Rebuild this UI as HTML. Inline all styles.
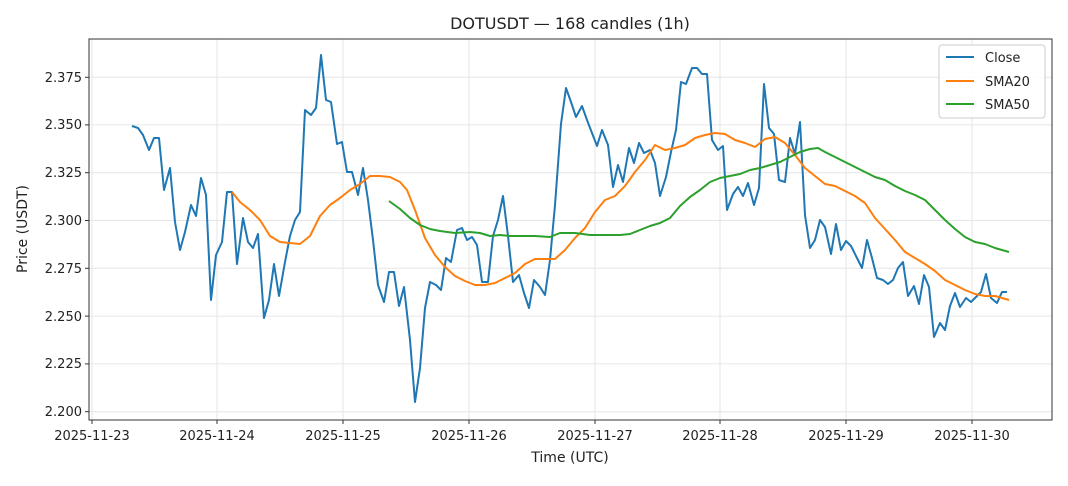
<!DOCTYPE html><html><head><style>body{margin:0;background:#fff}svg{font-family:"DejaVu Sans","Liberation Sans",sans-serif}</style></head><body>
<svg width="1068" height="481" xmlns="http://www.w3.org/2000/svg">
<rect width="1068" height="481" fill="#fff"/>
<g stroke="#e6e6e6" stroke-width="1">
<line x1="92" y1="39" x2="92" y2="420"/><line x1="217" y1="39" x2="217" y2="420"/><line x1="343" y1="39" x2="343" y2="420"/><line x1="469" y1="39" x2="469" y2="420"/><line x1="595" y1="39" x2="595" y2="420"/><line x1="720" y1="39" x2="720" y2="420"/><line x1="846" y1="39" x2="846" y2="420"/><line x1="972" y1="39" x2="972" y2="420"/>
<line x1="89" y1="411.7" x2="1052" y2="411.7"/><line x1="89" y1="363.9" x2="1052" y2="363.9"/><line x1="89" y1="316.1" x2="1052" y2="316.1"/><line x1="89" y1="268.3" x2="1052" y2="268.3"/><line x1="89" y1="220.5" x2="1052" y2="220.5"/><line x1="89" y1="172.7" x2="1052" y2="172.7"/><line x1="89" y1="124.9" x2="1052" y2="124.9"/><line x1="89" y1="77.3" x2="1052" y2="77.3"/>
</g>
<g fill="none" stroke-width="2" stroke-linejoin="round">
<polyline stroke="#1f77b4" points="132,126 138,128 143,135 149,150 154,138 159,138 164,190 170,168 175,222 180,250 185,232 191,205 196,216 201,178 206,195 211,300 216,255 222,242 227,192 232,192 237,264 243,218 248,242 253,248 258,234 264,318 269,300 274,264 279,296 285,262 290,236 295,220 300,212 305,110 311,115 316,108 321,55 326,100 331,102 337,144 342,142 347,172 352,172 358,195 363,168 368,200 373,240 378,285 384,302 389,272 394,272 399,306 404,287 410,340 415,402 420,368 425,308 430,282 436,285 441,290 446,258 451,262 457,230 462,228 467,240 472,237 477,245 482,282 488,282 493,236 498,220 503,196 508,236 513,282 519,275 524,293 529,308 534,280 540,287 545,295 550,260 555,205 561,124 566,88 571,102 576,117 582,106 587,120 592,133 597,146 602,130 608,145 613,187 618,165 623,182 629,148 634,163 639,143 644,153 650,150 655,163 660,196 666,177 671,152 676,130 681,82 686,84 692,68 697,68 702,74 707,74 712,140 718,150 723,146 727,210 733,194 738,187 743,196 748,183 754,205 759,188 764,84 769,128 774,134 779,180 785,182 790,138 795,154 800,122 805,215 810,248 815,240 820,220 825,227 831,254 836,224 841,250 846,241 851,246 857,258 862,268 867,240 872,258 877,278 883,280 888,284 893,280 898,268 903,262 908,296 914,286 919,304 924,275 929,287 934,337 940,323 945,330 950,306 955,293 960,307 966,298 971,302 976,297 981,292 986,274 991,298 997,303 1002,292 1007,292"/>
<polyline stroke="#ff7f0e" points="232,192 240,202 250,210 260,220 270,236 280,242 290,243 300,244 310,236 320,216 330,205 340,198 350,190 360,184 370,176 380,176 390,177 400,182 407,190 415,210 425,238 435,255 445,267 455,276 465,281 475,285 485,285 495,283 505,278 515,273 525,264 535,259 545,259 555,259 565,250 575,238 585,228 595,212 605,200 615,196 625,186 635,172 645,160 655,145 665,150 675,148 685,145 695,138 705,135 715,133 725,134 735,140 745,143 755,147 765,139 775,137 785,143 795,155 805,168 815,176 825,184 835,186 845,191 855,196 865,203 875,218 885,229 895,240 905,252 915,258 925,264 935,271 945,280 955,285 965,290 975,294 985,296 995,296 1009,300"/>
<polyline stroke="#2ca02c" points="389,201 400,209 410,218 420,225 430,229 440,231 455,233 470,232 480,233 490,236 500,235 510,236 520,236 535,236 550,237 560,233 575,233 590,235 605,235 620,235 630,234 640,230 650,226 660,223 670,218 680,206 690,197 700,190 710,182 720,178 730,176 740,174 750,170 760,168 770,165 780,162 790,157 800,152 810,149 818,148 825,152 835,157 845,162 855,167 865,172 875,177 885,180 895,186 905,191 915,195 925,200 935,210 945,220 955,229 965,237 975,242 985,244 995,248 1009,252"/>
</g>
<rect x="89" y="39" width="963" height="381" fill="none" stroke="#333" stroke-width="1"/>
<g stroke="#333"><line x1="92" y1="420" x2="92" y2="424"/><line x1="217" y1="420" x2="217" y2="424"/><line x1="343" y1="420" x2="343" y2="424"/><line x1="469" y1="420" x2="469" y2="424"/><line x1="595" y1="420" x2="595" y2="424"/><line x1="720" y1="420" x2="720" y2="424"/><line x1="846" y1="420" x2="846" y2="424"/><line x1="972" y1="420" x2="972" y2="424"/>
<line x1="85" y1="411.7" x2="89" y2="411.7"/><line x1="85" y1="363.9" x2="89" y2="363.9"/><line x1="85" y1="316.1" x2="89" y2="316.1"/><line x1="85" y1="268.3" x2="89" y2="268.3"/><line x1="85" y1="220.5" x2="89" y2="220.5"/><line x1="85" y1="172.7" x2="89" y2="172.7"/><line x1="85" y1="124.9" x2="89" y2="124.9"/><line x1="85" y1="77.3" x2="89" y2="77.3"/></g>
<g font-size="13" fill="#222" text-anchor="end">
<text x="82" y="416">2.200</text><text x="82" y="368">2.225</text><text x="82" y="321">2.250</text><text x="82" y="273">2.275</text><text x="82" y="225">2.300</text><text x="82" y="177">2.325</text><text x="82" y="129">2.350</text><text x="82" y="82">2.375</text></g>
<g font-size="13" fill="#222" text-anchor="middle">
<text x="92" y="440">2025-11-23</text><text x="217" y="440">2025-11-24</text><text x="343" y="440">2025-11-25</text><text x="469" y="440">2025-11-26</text><text x="595" y="440">2025-11-27</text><text x="720" y="440">2025-11-28</text><text x="846" y="440">2025-11-29</text><text x="972" y="440">2025-11-30</text>
<text x="570" y="462" font-size="14">Time (UTC)</text>
<text x="570" y="29" font-size="16">DOTUSDT — 168 candles (1h)</text>
<text transform="translate(27,229) rotate(-90)" font-size="14">Price (USDT)</text></g>
<rect x="939" y="45" width="106" height="73" rx="3" fill="#fff" fill-opacity="0.85" stroke="#ccc"/>
<g stroke-width="2"><line x1="946" y1="57" x2="974" y2="57" stroke="#1f77b4"/><line x1="946" y1="81" x2="974" y2="81" stroke="#ff7f0e"/><line x1="946" y1="104" x2="974" y2="104" stroke="#2ca02c"/></g>
<g font-size="13" fill="#222"><text x="985" y="62">Close</text><text x="985" y="86">SMA20</text><text x="985" y="109">SMA50</text></g>
</svg></body></html>
